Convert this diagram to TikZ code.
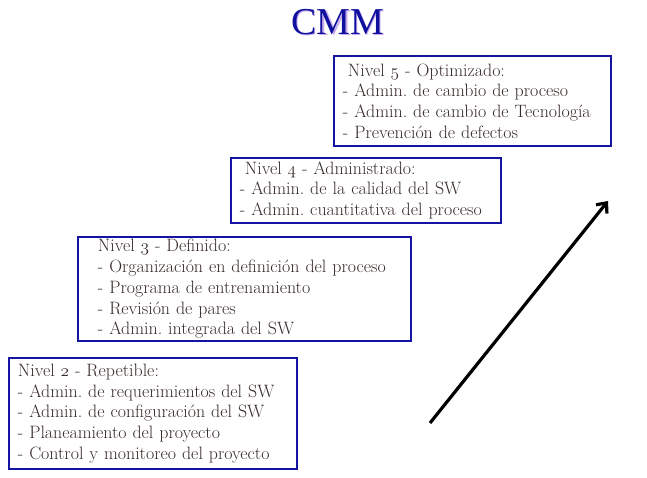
\documentclass[tikz,border=0pt]{standalone}
\usepackage{fontspec}
\usetikzlibrary{arrows.meta}
\newfontfamily\titlefont{Liberation Serif}
\definecolor{boxblue}{RGB}{20,20,160}
\definecolor{txtgray}{RGB}{55,42,40}
\definecolor{titleblue}{RGB}{15,15,160}
\definecolor{shadowpurple}{RGB}{200,170,235}
\newcommand{\osn}[1]{{\usefont{OML}{cmm}{m}{it}#1}}
\tikzset{
  lvlbox/.style={draw=boxblue, line width=1.8pt, anchor=north west, align=left,
    text=txtgray, inner xsep=9pt, inner ysep=0pt,
    font=\frenchspacing\fontsize{17.9}{20.7}\selectfont},
}
\begin{document}
\begin{tikzpicture}[x=1pt,y=-1pt]
\useasboundingbox (0,0) rectangle (647,478);
% title
\node[font=\titlefont\fontsize{38}{40}\selectfont, text=shadowpurple] at (339.2,23.2) {CMM};
\node[font=\titlefont\fontsize{38}{40}\selectfont, text=titleblue] (title) at (338,22) {CMM};
% boxes
\node[lvlbox, minimum width=277pt, minimum height=90pt, text width=259pt] (n5) at (333,55)
  {\hspace*{5pt}Nivel \osn{5} - Optimizado:\\- Admin. de cambio de proceso\\- Admin. de cambio de Tecnología\\- Prevención de defectos};
\node[lvlbox, minimum width=270pt, minimum height=65pt, text width=252pt] (n4) at (230,157)
  {\hspace*{5pt}Nivel \osn{4} - Administrado:\\- Admin. de la calidad del SW\\- Admin. cuantitativa del proceso};
\node[lvlbox, minimum width=333pt, minimum height=104pt, text width=293pt, inner xsep=20pt] (n3) at (77,236)
  {Nivel \osn{3} - Definido:\\- Organización en definición del proceso\\- Programa de entrenamiento\\- Revisión de pares\\- Admin. integrada del SW};
\node[lvlbox, minimum width=288pt, minimum height=111pt, text width=270pt] (n2) at (8,357)
  {Nivel \osn{2} - Repetible:\\- Admin. de requerimientos del SW\\- Admin. de configuración del SW\\- Planeamiento del proyecto\\- Control y monitoreo del proyecto};
% arrow
\coordinate (a0) at (430,423);
\coordinate (a1) at (608,201);
\draw[line width=3.2pt, -{Straight Barb[length=8pt,width=14pt]}] (a0) -- (a1);
\end{tikzpicture}
\end{document}
